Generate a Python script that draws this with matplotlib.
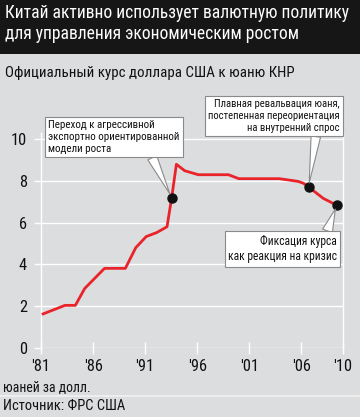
import matplotlib
matplotlib.use("Agg")
import matplotlib.pyplot as plt
from matplotlib import font_manager
from matplotlib.font_manager import FontProperties

# ---- data ----
years = [1981.2, 1983.3, 1984.3, 1985.2, 1987.1, 1989.1, 1990.1, 1991.1, 1992.1,
         1993.1, 1993.55, 1994.0, 1994.8, 1996.1, 1999.0, 2000.0, 2003.9, 2005.7,
         2006.2, 2006.7, 2008.1, 2009.4, 2009.7]
rates = [1.63, 2.04, 2.04, 2.85, 3.81, 3.81, 4.80, 5.33, 5.52,
         5.80, 7.19, 8.79, 8.48, 8.29, 8.29, 8.10, 8.10, 7.97,
         7.88, 7.70, 7.16, 6.83, 6.83]
event_years = [1993.55, 2006.7, 2009.4]
event_rates = [7.19, 7.70, 6.83]
event_texts = ["Переход к агрессивной\nэкспортно ориентированной\nмодели роста",
               "Плавная ревальвация юаня,\nпостепенная переориентация\nна внутренний спрос",
               "Фиксация курса\nкак реакция на кризис"]
xticks = [1981, 1986, 1991, 1996, 2001, 2006, 2010]
xtick_labels = ["'81", "'86", "'91", "'96", "'01", "'06", "'10"]
yticks = [0, 2, 4, 6, 8, 10]

title = "Китай активно использует валютную политику\nдля управления экономическим ростом"
subtitle = "Официальный курс доллара США к юаню КНР"
unit = "юаней за долл."
source = "Источник: ФРС США"


# ---- choose a condensed font if one is installed ----
def pick_font():
    bad = ["bold", "italic", "light", "thin", "medium", "black", "semi", "extra", "ultra", "oblique", "heavy"]
    prefs = ["notosans-extracondensed.", "robotocondensed-regular", "notosans-condensed.",
             "liberationsansnarrow-regular", "dejavusanscondensed.", "opensanscondensed"]
    files = [f.fname for f in font_manager.fontManager.ttflist]
    low = [f.lower().replace(" ", "") for f in files]
    for p in prefs:
        for f, l in zip(files, low):
            if p in l:
                return FontProperties(fname=f)
    for f, l in zip(files, low):
        base = l.rsplit("/", 1)[-1]
        if ("condensed" in base or "narrow" in base) and not any(b in base.replace("condensed", "").replace("narrow", "") for b in bad):
            return FontProperties(fname=f)
    return FontProperties(family="Liberation Sans")


FP = pick_font()

BG = "#dcdddf"
W, H = 360, 417
fig = plt.figure(figsize=(W / 100, H / 100), dpi=100, facecolor=BG)
renderer = fig.canvas.get_renderer()


def fit_size(text, target_px, linespacing=1.2, start=12):
    t = fig.text(0, 0, text, fontproperties=FP, fontsize=start, linespacing=linespacing)
    w = t.get_window_extent(renderer).width
    t.remove()
    return start * target_px / w


def ftext(x, y, text, target_px, maxsize=None, **kw):
    s = fit_size(text, target_px, kw.get("linespacing", 1.2))
    if maxsize:
        s = min(s, maxsize)
    return fig.text(x / W, 1 - y / H, text, fontproperties=FP, fontsize=s, **kw)


# title band
fig.patches.append(plt.Rectangle((0, (H - 54) / H), 1, 54 / H, transform=fig.transFigure,
                                 facecolor="#161616", edgecolor="none", zorder=0))
ftext(5, 4, title, 345, maxsize=17, color="white", va="top", ha="left", linespacing=1.18)
ftext(5, 66, subtitle, 288, maxsize=13.5, color="#111111", va="top", ha="left")

# axes
ax = fig.add_axes([41 / W, (H - 348) / H, (343 - 41) / W, (348 - 132.7) / H])
ax.set_facecolor(BG)
ax.set_xlim(1981, 2010)
ax.set_ylim(0, 10.3)
for s in ["top", "bottom"]:
    ax.spines[s].set_visible(False)
for s in ["left", "right"]:
    ax.spines[s].set_color("white")
    ax.spines[s].set_linewidth(1.0)
ax.set_yticks(yticks)
ax.set_xticks(xticks)
ax.set_xticklabels(xtick_labels)
ax.yaxis.grid(True, color="white", linewidth=1.0)
ax.set_axisbelow(True)
tick_size = min(13, fit_size("'06", 19))
ax.tick_params(axis="y", colors="white", length=5, width=1.0, labelcolor="#111111", pad=5)
ax.tick_params(axis="x", colors="white", direction="inout", length=8, width=1.0,
               labelcolor="#111111", pad=4)
for lab in ax.get_xticklabels() + ax.get_yticklabels():
    lab.set_fontproperties(FP)
    lab.set_fontsize(tick_size)

ax.plot(years, rates, color="#e8242a", linewidth=2.0, solid_joinstyle="round", zorder=3,
        clip_on=False)
ax.plot(event_years, event_rates, "o", color="#111111", markersize=6.5, zorder=5,
        clip_on=False)

# callouts
layout = [((48, H - 137), "left", (0.78, 0.0), 132),
          ((340, H - 116), "right", (0.82, 0.0), 131),
          ((337, H - 249), "right", (0.9, 1.0), 109)]
for ex, ey, txt, (pos, ha, rel, wpx) in zip(event_years, event_rates, event_texts, layout):
    s = min(11, fit_size(txt, wpx, 1.25))
    ax.annotate(txt, xy=(ex, ey), xytext=pos, textcoords="figure pixels",
                ha=ha, va="center", fontproperties=FP, fontsize=s, color="#111111",
                linespacing=1.25,
                bbox=dict(boxstyle="square,pad=0.3", fc="white", ec="#8a8a8a", lw=0.8),
                arrowprops=dict(arrowstyle="wedge,tail_width=0.9,shrink_factor=0.5",
                                fc="white", ec="#8a8a8a", lw=0.8, relpos=rel,
                                shrinkA=0, shrinkB=3),
                zorder=6)

ftext(3, 380, unit, 88, maxsize=12, color="#111111", va="top", ha="left")
fig.add_artist(plt.Line2D([0, 1], [(H - 396) / H] * 2, transform=fig.transFigure,
                          color="#f2f2f2", linewidth=1.2))
ftext(3, 399, source, 122, maxsize=13, color="#111111", va="top", ha="left")

fig.savefig("out.png", dpi=100, facecolor=BG)
